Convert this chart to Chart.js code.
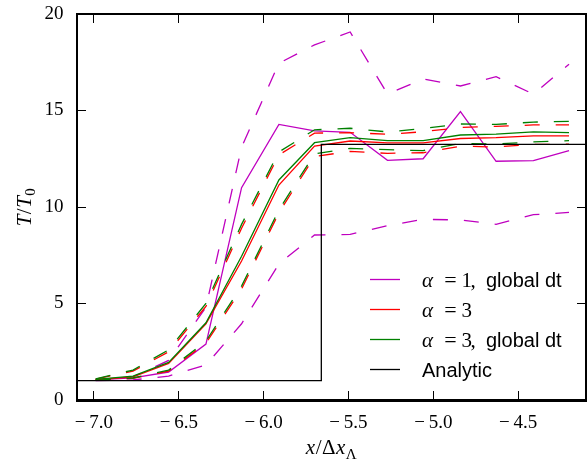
<!DOCTYPE html>
<html>
<head>
<meta charset="utf-8">
<script src="https://cdn.jsdelivr.net/npm/chart.js@4.4.0/dist/chart.umd.min.js"></script>
<style>
body { margin: 0; background: #fff; }
#wrap { position: relative; width: 587px; height: 462px; }
#box { position: absolute; left: 76px; top: 13px; width: 512px; height: 389px; box-sizing: border-box; border: 2px solid #000; pointer-events: none; }
</style>
</head>
<body>
<div id="wrap">
<canvas id="c" width="587" height="462"></canvas>
<div id="box"></div>
</div>
<script>
// x positions of the simulation cells
const xs = [-6.99, -6.77, -6.56, -6.34, -6.13, -5.91, -5.70, -5.49, -5.27, -5.06, -4.84, -4.63, -4.41, -4.20];

// alpha = 1, global dt (magenta)
const m1Mean  = [1.05, 1.15, 1.45, 2.9, 11.0, 14.28, 13.94, 13.87, 12.42, 12.5, 14.94, 12.37, 12.4, 12.92];
const m1Upper = [1.05, 1.2, 2.05, 4.8, 13.1, 17.45, 18.4, 19.07, 15.85, 16.63, 16.27, 16.75, 15.85, 17.4];
const m1Lower = [1.0, 1.04, 1.24, 1.81, 3.95, 7.05, 8.55, 8.58, 9.03, 9.36, 9.33, 9.1, 9.6, 9.72];

// alpha = 3 (red)
const a3Mean  = [1.05, 1.2, 1.9, 3.95, 7.2, 11.14, 13.16, 13.42, 13.32, 13.32, 13.55, 13.59, 13.69, 13.69];
const a3Upper = [1.08, 1.5, 2.5, 4.85, 8.9, 12.7, 13.83, 13.85, 13.77, 13.9, 14.12, 14.18, 14.25, 14.26];
const a3Lower = [1.02, 1.12, 1.5, 2.95, 5.75, 9.7, 12.62, 12.88, 12.78, 12.81, 13.15, 13.11, 13.24, 13.26];

// alpha = 3, global dt (green)
const g3Mean  = [1.07, 1.24, 1.95, 4.0, 7.45, 11.4, 13.33, 13.59, 13.44, 13.44, 13.73, 13.78, 13.89, 13.85];
const g3Upper = [1.1, 1.55, 2.6, 5.0, 9.1, 12.85, 14.0, 14.08, 13.89, 14.07, 14.3, 14.28, 14.4, 14.44];
const g3Lower = [1.02, 1.14, 1.55, 3.05, 5.9, 9.85, 12.75, 13.04, 12.97, 12.92, 13.3, 13.26, 13.37, 13.44];

// analytic step
const analyticX = [-7.1, -5.66, -5.66, -4.1];
const analyticY = [1, 1, 13.25, 13.25];

const xMin = -7.1, xMax = -4.1, yMin = 0, yMax = 20;
const xTicks = [-7.0, -6.5, -6.0, -5.5, -5.0, -4.5];
const yTicks = [0, 5, 10, 15, 20];

const seriesNames = ['α = 1, global dt', 'α = 3', 'α = 3, global dt', 'Analytic'];
const seriesColors = ['#bf00bf', '#ff0000', '#008000', '#000000'];

const SERIF = '"Liberation Serif", "DejaVu Serif", serif';
const SANS = '"Liberation Sans", Arial, sans-serif';

function pts(ys) {
    return xs.map((x, i) => ({x: x, y: ys[i]}));
}

function ds(label, ys, color, dashed, order) {
    return {
        label: label,
        data: pts(ys),
        borderColor: color,
        backgroundColor: color,
        borderWidth: 1.3,
        borderDash: dashed ? [15, 16] : [],
        pointRadius: 0,
        tension: 0,
        order: order
    };
}

const chartData = [
    ds(seriesNames[0], m1Mean, seriesColors[0], false, 3),
    ds(seriesNames[0] + ' +', m1Upper, seriesColors[0], true, 3),
    ds(seriesNames[0] + ' -', m1Lower, seriesColors[0], true, 3),
    ds(seriesNames[1], a3Mean, seriesColors[1], false, 2),
    ds(seriesNames[1] + ' +', a3Upper, seriesColors[1], true, 2),
    ds(seriesNames[1] + ' -', a3Lower, seriesColors[1], true, 2),
    ds(seriesNames[2], g3Mean, seriesColors[2], false, 1),
    ds(seriesNames[2] + ' +', g3Upper, seriesColors[2], true, 1),
    ds(seriesNames[2] + ' -', g3Lower, seriesColors[2], true, 1),
    {
        label: seriesNames[3],
        data: analyticX.map((x, i) => ({x: x, y: analyticY[i]})),
        borderColor: seriesColors[3],
        backgroundColor: seriesColors[3],
        borderWidth: 1.3,
        pointRadius: 0,
        order: 0
    }
];

function fmtX(v) {
    const s = Math.abs(v).toFixed(1);
    return v < 0 ? '\u2212\u2009' + s : s;
}

function drawParts(ctx, parts, cx, base) {
    let total = 0;
    parts.forEach(p => { ctx.font = p[1]; total += ctx.measureText(p[0]).width + 0.5; });
    let x = cx - total / 2;
    ctx.textAlign = 'left';
    parts.forEach(p => {
        ctx.font = p[1];
        ctx.fillText(p[0], x, base + p[2]);
        x += ctx.measureText(p[0]).width + 0.5;
    });
}

// axis titles and legend
const texts = {
    id: 'texts',
    afterDraw(chart) {
        const ctx = chart.ctx;
        const sx = chart.scales.x, sy = chart.scales.y;
        const cx = (sx.getPixelForValue(xMin) + sx.getPixelForValue(xMax)) / 2;
        const cy = (sy.getPixelForValue(yMin) + sy.getPixelForValue(yMax)) / 2;
        ctx.save();
        ctx.fillStyle = '#000';
        ctx.textBaseline = 'alphabetic';
        drawParts(ctx, [
            ['x', 'italic 21px ' + SERIF, 0],
            ['/', '21px ' + SERIF, 0],
            ['Δ', '21px ' + SERIF, 0],
            ['x', 'italic 21px ' + SERIF, 0],
            ['Λ', '15px ' + SERIF, 5]
        ], cx, 454);

        ctx.save();
        ctx.translate(31, cy);
        ctx.rotate(-Math.PI / 2);
        drawParts(ctx, [
            ['T', 'italic 21px ' + SERIF, 0],
            ['/', '21px ' + SERIF, 0],
            ['T', 'italic 21px ' + SERIF, 0],
            ['0', '15px ' + SERIF, 4]
        ], 0, 0);
        ctx.restore();

        const rows = [279.5, 309.5, 339.5, 369.5];
        seriesNames.forEach((lab, i) => {
            const y = rows[i];
            ctx.strokeStyle = seriesColors[i];
            ctx.lineWidth = 1.3;
            ctx.setLineDash([]);
            ctx.beginPath();
            ctx.moveTo(370, y);
            ctx.lineTo(400, y);
            ctx.stroke();
            const base = y + 7;
            const m = lab.match(/^α = (\d)(,?)\s*(.*)$/);
            ctx.textAlign = 'left';
            if (m) {
                ctx.font = 'italic 21px ' + SERIF;
                ctx.fillText('α', 422, base);
                ctx.font = '22px ' + SERIF;
                ctx.textAlign = 'center';
                ctx.fillText('=', 450.5, base);
                ctx.textAlign = 'left';
                ctx.font = '21px ' + SERIF;
                ctx.fillText(m[1], 461.5, base);
                if (m[2]) {
                    ctx.fillText(',', 470.5, base);
                    ctx.font = '20px ' + SANS;
                    ctx.fillText(m[3], 486, base);
                }
            } else {
                ctx.font = '20px ' + SANS;
                ctx.fillText(lab, 422, base);
            }
        });
        ctx.restore();
    }
};

// inward tick marks + black spine, via the library's own grid/border
const tickGrid = { display: true, drawOnChartArea: false, drawTicks: true, tickLength: -9, color: '#000', lineWidth: 1 };
const spine = { display: true, color: '#000', width: 2 };

new Chart(document.getElementById('c'), {
    type: 'line',
    data: { datasets: chartData },
    options: {
        responsive: false,
        animation: false,
        layout: { padding: { top: 14, right: 1, left: 0, bottom: 0 } },
        plugins: {
            legend: { display: false },
            tooltip: { enabled: false }
        },
        scales: {
            x: {
                type: 'linear',
                position: 'bottom',
                min: xMin,
                max: xMax,
                grid: tickGrid,
                border: spine,
                afterBuildTicks: s => { s.ticks = xTicks.map(v => ({value: v})); },
                afterFit: s => { s.height = 62; s.paddingLeft = 0; s.paddingRight = 0; },
                ticks: {
                    autoSkip: false,
                    maxRotation: 0,
                    padding: 21,
                    color: '#000',
                    font: { family: SERIF, size: 19 },
                    callback: v => fmtX(v)
                }
            },
            x2: {
                type: 'linear',
                position: 'top',
                min: xMin,
                max: xMax,
                grid: tickGrid,
                border: spine,
                afterBuildTicks: s => { s.ticks = xTicks.map(v => ({value: v})); },
                afterFit: s => { s.height = 0; s.paddingLeft = 0; s.paddingRight = 0; },
                ticks: { display: false }
            },
            y: {
                position: 'left',
                min: yMin,
                max: yMax,
                grid: tickGrid,
                border: spine,
                afterBuildTicks: s => { s.ticks = yTicks.map(v => ({value: v})); },
                afterFit: s => { s.width = 77; s.paddingTop = 0; s.paddingBottom = 0; },
                ticks: {
                    padding: 22.5,
                    color: '#000',
                    font: { family: SERIF, size: 19 },
                    callback: v => String(v)
                }
            },
            y2: {
                position: 'right',
                min: yMin,
                max: yMax,
                grid: tickGrid,
                border: spine,
                afterBuildTicks: s => { s.ticks = yTicks.map(v => ({value: v})); },
                afterFit: s => { s.width = 0; s.paddingTop = 0; s.paddingBottom = 0; },
                ticks: { display: false }
            }
        }
    },
    plugins: [texts]
});
</script>
</body>
</html>
